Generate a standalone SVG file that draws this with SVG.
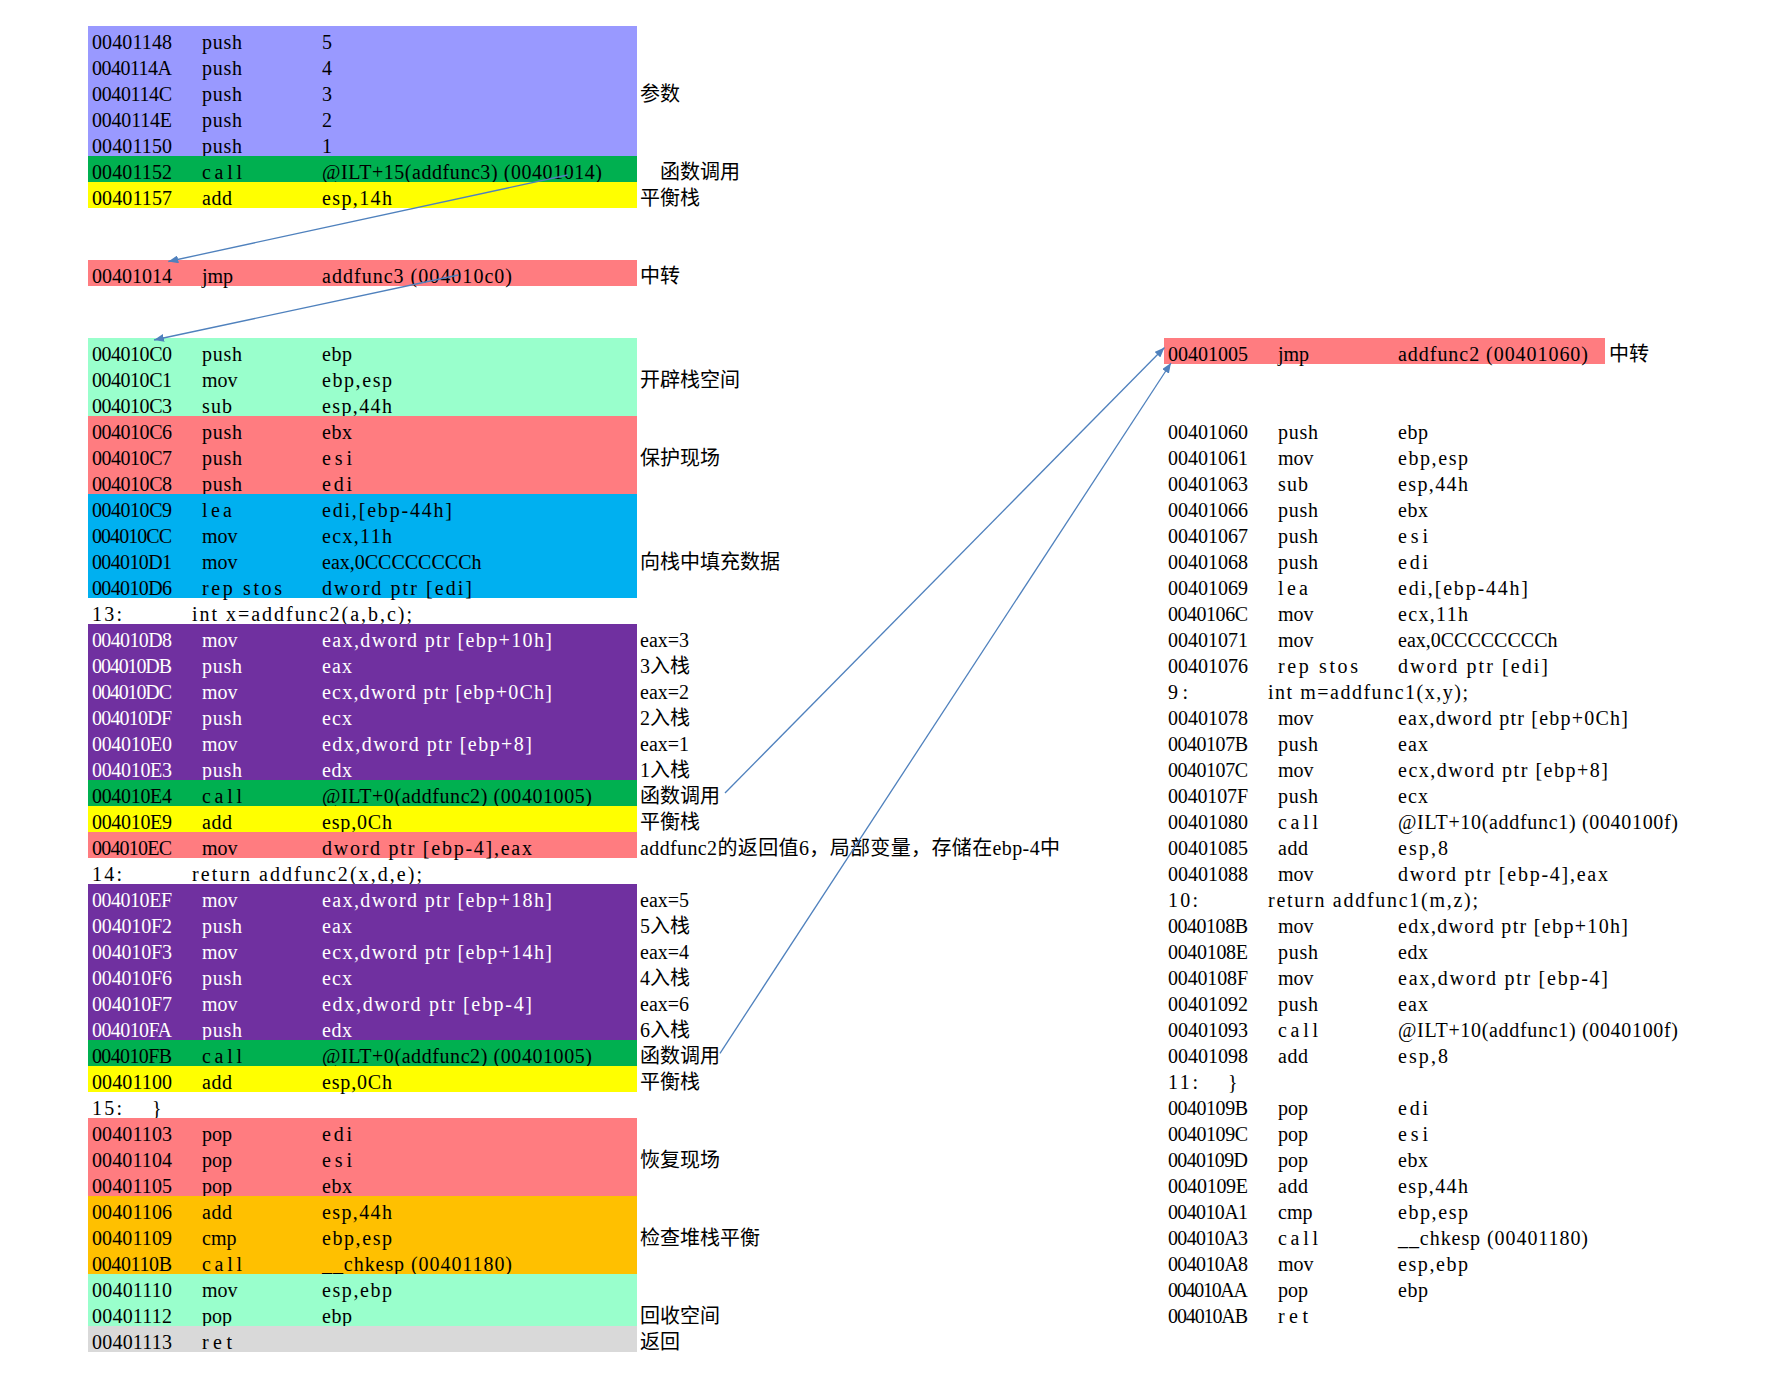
<svg xmlns="http://www.w3.org/2000/svg" width="1781" height="1379" viewBox="0 0 1781 1379">
<style>
text{font-family:"Liberation Serif","Noto Sans CJK SC",serif;font-size:20px;fill:#000}
.w{fill:#fff}
.lbl{font-family:"Liberation Serif","Noto Sans CJK SC",serif}
.pa{fill:#9999FF}.gr{fill:#00B050}.ye{fill:#FFFF00}.rd{fill:#FF7C80}.aq{fill:#99FFCC}
.bl{fill:#00B0F0}.pu{fill:#7030A0}.or{fill:#FFC000}.gy{fill:#D9D9D9}
.arr{stroke:#4F81BD;stroke-width:1.3;fill:none;marker-end:url(#ah)}
</style>
<defs>
<marker id="ah" viewBox="0 0 10 8" refX="10" refY="4" markerWidth="10" markerHeight="8" markerUnits="userSpaceOnUse" orient="auto"><path d="M0,0 L10,4 L0,8 z" fill="#4F81BD"/></marker>
</defs>
<rect width="1781" height="1379" fill="#fff"/>

<g id="params">
<rect class="pa" x="88" y="26" width="549" height="130"/>
<text x="92" y="48.8" textLength="80">00401148</text><text x="202" y="48.8" textLength="40">push</text><text x="322" y="48.8">5</text>
<text x="92" y="74.8" textLength="80">0040114A</text><text x="202" y="74.8" textLength="40">push</text><text x="322" y="74.8">4</text>
<text x="92" y="100.8" textLength="80">0040114C</text><text x="202" y="100.8" textLength="40">push</text><text x="322" y="100.8">3</text>
<text x="92" y="126.8" textLength="80">0040114E</text><text x="202" y="126.8" textLength="40">push</text><text x="322" y="126.8">2</text>
<text x="92" y="152.8" textLength="80">00401150</text><text x="202" y="152.8" textLength="40">push</text><text x="322" y="152.8">1</text>
</g>
<g id="call-addfunc3">
<rect class="gr" x="88" y="156" width="549" height="26"/>
<text x="92" y="178.8" textLength="80">00401152</text><text x="202" y="178.8" textLength="40">call</text><text x="322" y="178.8" textLength="280">@ILT+15(addfunc3) (00401014)</text>
</g>
<g id="balance-1">
<rect class="ye" x="88" y="182" width="549" height="26"/>
<text x="92" y="204.8" textLength="80">00401157</text><text x="202" y="204.8" textLength="30">add</text><text x="322" y="204.8" textLength="70">esp,14h</text>
</g>
<g id="jmp-addfunc3">
<rect class="rd" x="88" y="260" width="549" height="26"/>
<text x="92" y="282.8" textLength="80">00401014</text><text x="202" y="282.8">jmp</text><text x="322" y="282.8" textLength="190">addfunc3 (004010c0)</text>
</g>
<g id="prologue">
<rect class="aq" x="88" y="338" width="549" height="78"/>
<text x="92" y="360.8" textLength="80">004010C0</text><text x="202" y="360.8" textLength="40">push</text><text x="322" y="360.8" textLength="30">ebp</text>
<text x="92" y="386.8" textLength="80">004010C1</text><text x="202" y="386.8">mov</text><text x="322" y="386.8" textLength="70">ebp,esp</text>
<text x="92" y="412.8" textLength="80">004010C3</text><text x="202" y="412.8" textLength="30">sub</text><text x="322" y="412.8" textLength="70">esp,44h</text>
</g>
<g id="save-regs">
<rect class="rd" x="88" y="416" width="549" height="78"/>
<text x="92" y="438.8" textLength="80">004010C6</text><text x="202" y="438.8" textLength="40">push</text><text x="322" y="438.8" textLength="30">ebx</text>
<text x="92" y="464.8" textLength="80">004010C7</text><text x="202" y="464.8" textLength="40">push</text><text x="322" y="464.8" textLength="30">esi</text>
<text x="92" y="490.8" textLength="80">004010C8</text><text x="202" y="490.8" textLength="40">push</text><text x="322" y="490.8" textLength="30">edi</text>
</g>
<g id="fill-stack">
<rect class="bl" x="88" y="494" width="549" height="104"/>
<text x="92" y="516.8" textLength="80">004010C9</text><text x="202" y="516.8" textLength="30">lea</text><text x="322" y="516.8" textLength="130">edi,[ebp-44h]</text>
<text x="92" y="542.8" textLength="80">004010CC</text><text x="202" y="542.8">mov</text><text x="322" y="542.8" textLength="70">ecx,11h</text>
<text x="92" y="568.8" textLength="80">004010D1</text><text x="202" y="568.8">mov</text><text x="322" y="568.8">eax,0CCCCCCCCh</text>
<text x="92" y="594.8" textLength="80">004010D6</text><text x="202" y="594.8" textLength="80">rep stos</text><text x="322" y="594.8" textLength="150">dword ptr [edi]</text>
</g>
<g id="src-13">
<text x="92" y="620.8" textLength="30">13:</text><text x="192" y="620.8" textLength="220">int x=addfunc2(a,b,c);</text>
</g>
<g id="args-1">
<rect class="pu" x="88" y="624" width="549" height="156"/>
<text class="w" x="92" y="646.8" textLength="80">004010D8</text><text class="w" x="202" y="646.8">mov</text><text class="w" x="322" y="646.8" textLength="230">eax,dword ptr [ebp+10h]</text>
<text class="w" x="92" y="672.8" textLength="80">004010DB</text><text class="w" x="202" y="672.8" textLength="40">push</text><text class="w" x="322" y="672.8" textLength="30">eax</text>
<text class="w" x="92" y="698.8" textLength="80">004010DC</text><text class="w" x="202" y="698.8">mov</text><text class="w" x="322" y="698.8" textLength="230">ecx,dword ptr [ebp+0Ch]</text>
<text class="w" x="92" y="724.8" textLength="80">004010DF</text><text class="w" x="202" y="724.8" textLength="40">push</text><text class="w" x="322" y="724.8" textLength="30">ecx</text>
<text class="w" x="92" y="750.8" textLength="80">004010E0</text><text class="w" x="202" y="750.8">mov</text><text class="w" x="322" y="750.8" textLength="210">edx,dword ptr [ebp+8]</text>
<text class="w" x="92" y="776.8" textLength="80">004010E3</text><text class="w" x="202" y="776.8" textLength="40">push</text><text class="w" x="322" y="776.8" textLength="30">edx</text>
</g>
<g id="call-addfunc2-1">
<rect class="gr" x="88" y="780" width="549" height="26"/>
<text x="92" y="802.8" textLength="80">004010E4</text><text x="202" y="802.8" textLength="40">call</text><text x="322" y="802.8" textLength="270">@ILT+0(addfunc2) (00401005)</text>
</g>
<g id="balance-2">
<rect class="ye" x="88" y="806" width="549" height="26"/>
<text x="92" y="828.8" textLength="80">004010E9</text><text x="202" y="828.8" textLength="30">add</text><text x="322" y="828.8" textLength="70">esp,0Ch</text>
</g>
<g id="store-local">
<rect class="rd" x="88" y="832" width="549" height="26"/>
<text x="92" y="854.8" textLength="80">004010EC</text><text x="202" y="854.8">mov</text><text x="322" y="854.8" textLength="210">dword ptr [ebp-4],eax</text>
</g>
<g id="src-14">
<text x="92" y="880.8" textLength="30">14:</text><text x="192" y="880.8" textLength="230">return addfunc2(x,d,e);</text>
</g>
<g id="args-2">
<rect class="pu" x="88" y="884" width="549" height="156"/>
<text class="w" x="92" y="906.8" textLength="80">004010EF</text><text class="w" x="202" y="906.8">mov</text><text class="w" x="322" y="906.8" textLength="230">eax,dword ptr [ebp+18h]</text>
<text class="w" x="92" y="932.8" textLength="80">004010F2</text><text class="w" x="202" y="932.8" textLength="40">push</text><text class="w" x="322" y="932.8" textLength="30">eax</text>
<text class="w" x="92" y="958.8" textLength="80">004010F3</text><text class="w" x="202" y="958.8">mov</text><text class="w" x="322" y="958.8" textLength="230">ecx,dword ptr [ebp+14h]</text>
<text class="w" x="92" y="984.8" textLength="80">004010F6</text><text class="w" x="202" y="984.8" textLength="40">push</text><text class="w" x="322" y="984.8" textLength="30">ecx</text>
<text class="w" x="92" y="1010.8" textLength="80">004010F7</text><text class="w" x="202" y="1010.8">mov</text><text class="w" x="322" y="1010.8" textLength="210">edx,dword ptr [ebp-4]</text>
<text class="w" x="92" y="1036.8" textLength="80">004010FA</text><text class="w" x="202" y="1036.8" textLength="40">push</text><text class="w" x="322" y="1036.8" textLength="30">edx</text>
</g>
<g id="call-addfunc2-2">
<rect class="gr" x="88" y="1040" width="549" height="26"/>
<text x="92" y="1062.8" textLength="80">004010FB</text><text x="202" y="1062.8" textLength="40">call</text><text x="322" y="1062.8" textLength="270">@ILT+0(addfunc2) (00401005)</text>
</g>
<g id="balance-3">
<rect class="ye" x="88" y="1066" width="549" height="26"/>
<text x="92" y="1088.8" textLength="80">00401100</text><text x="202" y="1088.8" textLength="30">add</text><text x="322" y="1088.8" textLength="70">esp,0Ch</text>
</g>
<g id="src-15">
<text x="92" y="1114.8" textLength="30">15:</text><text x="152" y="1114.8">}</text>
</g>
<g id="restore-regs">
<rect class="rd" x="88" y="1118" width="549" height="78"/>
<text x="92" y="1140.8" textLength="80">00401103</text><text x="202" y="1140.8" textLength="30">pop</text><text x="322" y="1140.8" textLength="30">edi</text>
<text x="92" y="1166.8" textLength="80">00401104</text><text x="202" y="1166.8" textLength="30">pop</text><text x="322" y="1166.8" textLength="30">esi</text>
<text x="92" y="1192.8" textLength="80">00401105</text><text x="202" y="1192.8" textLength="30">pop</text><text x="322" y="1192.8" textLength="30">ebx</text>
</g>
<g id="check-stack">
<rect class="or" x="88" y="1196" width="549" height="78"/>
<text x="92" y="1218.8" textLength="80">00401106</text><text x="202" y="1218.8" textLength="30">add</text><text x="322" y="1218.8" textLength="70">esp,44h</text>
<text x="92" y="1244.8" textLength="80">00401109</text><text x="202" y="1244.8">cmp</text><text x="322" y="1244.8" textLength="70">ebp,esp</text>
<text x="92" y="1270.8" textLength="80">0040110B</text><text x="202" y="1270.8" textLength="40">call</text><text x="322" y="1270.8" textLength="190">__chkesp (00401180)</text>
</g>
<g id="epilogue">
<rect class="aq" x="88" y="1274" width="549" height="52"/>
<text x="92" y="1296.8" textLength="80">00401110</text><text x="202" y="1296.8">mov</text><text x="322" y="1296.8" textLength="70">esp,ebp</text>
<text x="92" y="1322.8" textLength="80">00401112</text><text x="202" y="1322.8" textLength="30">pop</text><text x="322" y="1322.8" textLength="30">ebp</text>
</g>
<g id="ret">
<rect class="gy" x="88" y="1326" width="549" height="26"/>
<text x="92" y="1348.8" textLength="80">00401113</text><text x="202" y="1348.8" textLength="30">ret</text>
</g>

<g id="labels">
<text class="lbl" x="640" y="100.8">参数</text>
<text class="lbl" x="660" y="178.8">函数调用</text>
<text class="lbl" x="640" y="204.8">平衡栈</text>
<text class="lbl" x="640" y="282.8">中转</text>
<text class="lbl" x="640" y="386.8">开辟栈空间</text>
<text class="lbl" x="640" y="464.8">保护现场</text>
<text class="lbl" x="640" y="568.8">向栈中填充数据</text>
<text class="lbl" x="640" y="646.8">eax=3</text>
<text class="lbl" x="640" y="672.8">3入栈</text>
<text class="lbl" x="640" y="698.8">eax=2</text>
<text class="lbl" x="640" y="724.8">2入栈</text>
<text class="lbl" x="640" y="750.8">eax=1</text>
<text class="lbl" x="640" y="776.8">1入栈</text>
<text class="lbl" x="640" y="802.8">函数调用</text>
<text class="lbl" x="640" y="828.8">平衡栈</text>
<text class="lbl" x="640" y="854.8" textLength="420">addfunc2的返回值6，局部变量，存储在ebp-4中</text>
<text class="lbl" x="640" y="906.8">eax=5</text>
<text class="lbl" x="640" y="932.8">5入栈</text>
<text class="lbl" x="640" y="958.8">eax=4</text>
<text class="lbl" x="640" y="984.8">4入栈</text>
<text class="lbl" x="640" y="1010.8">eax=6</text>
<text class="lbl" x="640" y="1036.8">6入栈</text>
<text class="lbl" x="640" y="1062.8">函数调用</text>
<text class="lbl" x="640" y="1088.8">平衡栈</text>
<text class="lbl" x="640" y="1166.8">恢复现场</text>
<text class="lbl" x="640" y="1244.8">检查堆栈平衡</text>
<text class="lbl" x="640" y="1322.8">回收空间</text>
<text class="lbl" x="640" y="1348.8">返回</text>
</g>

<g id="jmp-addfunc2">
<rect class="rd" x="1164" y="338" width="441" height="26"/>
<text x="1168" y="360.8" textLength="80">00401005</text><text x="1278" y="360.8">jmp</text><text x="1398" y="360.8" textLength="190">addfunc2 (00401060)</text>
<text class="lbl" x="1609" y="360.8">中转</text>
</g>

<g id="addfunc2-body">
<text x="1168" y="438.8" textLength="80">00401060</text><text x="1278" y="438.8" textLength="40">push</text><text x="1398" y="438.8" textLength="30">ebp</text>
<text x="1168" y="464.8" textLength="80">00401061</text><text x="1278" y="464.8">mov</text><text x="1398" y="464.8" textLength="70">ebp,esp</text>
<text x="1168" y="490.8" textLength="80">00401063</text><text x="1278" y="490.8" textLength="30">sub</text><text x="1398" y="490.8" textLength="70">esp,44h</text>
<text x="1168" y="516.8" textLength="80">00401066</text><text x="1278" y="516.8" textLength="40">push</text><text x="1398" y="516.8" textLength="30">ebx</text>
<text x="1168" y="542.8" textLength="80">00401067</text><text x="1278" y="542.8" textLength="40">push</text><text x="1398" y="542.8" textLength="30">esi</text>
<text x="1168" y="568.8" textLength="80">00401068</text><text x="1278" y="568.8" textLength="40">push</text><text x="1398" y="568.8" textLength="30">edi</text>
<text x="1168" y="594.8" textLength="80">00401069</text><text x="1278" y="594.8" textLength="30">lea</text><text x="1398" y="594.8" textLength="130">edi,[ebp-44h]</text>
<text x="1168" y="620.8" textLength="80">0040106C</text><text x="1278" y="620.8">mov</text><text x="1398" y="620.8" textLength="70">ecx,11h</text>
<text x="1168" y="646.8" textLength="80">00401071</text><text x="1278" y="646.8">mov</text><text x="1398" y="646.8">eax,0CCCCCCCCh</text>
<text x="1168" y="672.8" textLength="80">00401076</text><text x="1278" y="672.8" textLength="80">rep stos</text><text x="1398" y="672.8" textLength="150">dword ptr [edi]</text>
<text x="1168" y="698.8" textLength="20">9:</text><text x="1268" y="698.8" textLength="200">int m=addfunc1(x,y);</text>
<text x="1168" y="724.8" textLength="80">00401078</text><text x="1278" y="724.8">mov</text><text x="1398" y="724.8" textLength="230">eax,dword ptr [ebp+0Ch]</text>
<text x="1168" y="750.8" textLength="80">0040107B</text><text x="1278" y="750.8" textLength="40">push</text><text x="1398" y="750.8" textLength="30">eax</text>
<text x="1168" y="776.8" textLength="80">0040107C</text><text x="1278" y="776.8">mov</text><text x="1398" y="776.8" textLength="210">ecx,dword ptr [ebp+8]</text>
<text x="1168" y="802.8" textLength="80">0040107F</text><text x="1278" y="802.8" textLength="40">push</text><text x="1398" y="802.8" textLength="30">ecx</text>
<text x="1168" y="828.8" textLength="80">00401080</text><text x="1278" y="828.8" textLength="40">call</text><text x="1398" y="828.8" textLength="280">@ILT+10(addfunc1) (0040100f)</text>
<text x="1168" y="854.8" textLength="80">00401085</text><text x="1278" y="854.8" textLength="30">add</text><text x="1398" y="854.8" textLength="50">esp,8</text>
<text x="1168" y="880.8" textLength="80">00401088</text><text x="1278" y="880.8">mov</text><text x="1398" y="880.8" textLength="210">dword ptr [ebp-4],eax</text>
<text x="1168" y="906.8" textLength="30">10:</text><text x="1268" y="906.8" textLength="210">return addfunc1(m,z);</text>
<text x="1168" y="932.8" textLength="80">0040108B</text><text x="1278" y="932.8">mov</text><text x="1398" y="932.8" textLength="230">edx,dword ptr [ebp+10h]</text>
<text x="1168" y="958.8" textLength="80">0040108E</text><text x="1278" y="958.8" textLength="40">push</text><text x="1398" y="958.8" textLength="30">edx</text>
<text x="1168" y="984.8" textLength="80">0040108F</text><text x="1278" y="984.8">mov</text><text x="1398" y="984.8" textLength="210">eax,dword ptr [ebp-4]</text>
<text x="1168" y="1010.8" textLength="80">00401092</text><text x="1278" y="1010.8" textLength="40">push</text><text x="1398" y="1010.8" textLength="30">eax</text>
<text x="1168" y="1036.8" textLength="80">00401093</text><text x="1278" y="1036.8" textLength="40">call</text><text x="1398" y="1036.8" textLength="280">@ILT+10(addfunc1) (0040100f)</text>
<text x="1168" y="1062.8" textLength="80">00401098</text><text x="1278" y="1062.8" textLength="30">add</text><text x="1398" y="1062.8" textLength="50">esp,8</text>
<text x="1168" y="1088.8" textLength="30">11:</text><text x="1228" y="1088.8">}</text>
<text x="1168" y="1114.8" textLength="80">0040109B</text><text x="1278" y="1114.8" textLength="30">pop</text><text x="1398" y="1114.8" textLength="30">edi</text>
<text x="1168" y="1140.8" textLength="80">0040109C</text><text x="1278" y="1140.8" textLength="30">pop</text><text x="1398" y="1140.8" textLength="30">esi</text>
<text x="1168" y="1166.8" textLength="80">0040109D</text><text x="1278" y="1166.8" textLength="30">pop</text><text x="1398" y="1166.8" textLength="30">ebx</text>
<text x="1168" y="1192.8" textLength="80">0040109E</text><text x="1278" y="1192.8" textLength="30">add</text><text x="1398" y="1192.8" textLength="70">esp,44h</text>
<text x="1168" y="1218.8" textLength="80">004010A1</text><text x="1278" y="1218.8">cmp</text><text x="1398" y="1218.8" textLength="70">ebp,esp</text>
<text x="1168" y="1244.8" textLength="80">004010A3</text><text x="1278" y="1244.8" textLength="40">call</text><text x="1398" y="1244.8" textLength="190">__chkesp (00401180)</text>
<text x="1168" y="1270.8" textLength="80">004010A8</text><text x="1278" y="1270.8">mov</text><text x="1398" y="1270.8" textLength="70">esp,ebp</text>
<text x="1168" y="1296.8" textLength="80">004010AA</text><text x="1278" y="1296.8" textLength="30">pop</text><text x="1398" y="1296.8" textLength="30">ebp</text>
<text x="1168" y="1322.8" textLength="80">004010AB</text><text x="1278" y="1322.8" textLength="30">ret</text>
</g>

<g id="connectors">
<line class="arr" x1="567.7" y1="175" x2="168.3" y2="261.5"/>
<line class="arr" x1="458.3" y1="275" x2="154" y2="340"/>
<line class="arr" x1="725" y1="793" x2="1164.5" y2="347.5"/>
<line class="arr" x1="720" y1="1053.3" x2="1171" y2="363"/>
</g>
</svg>
